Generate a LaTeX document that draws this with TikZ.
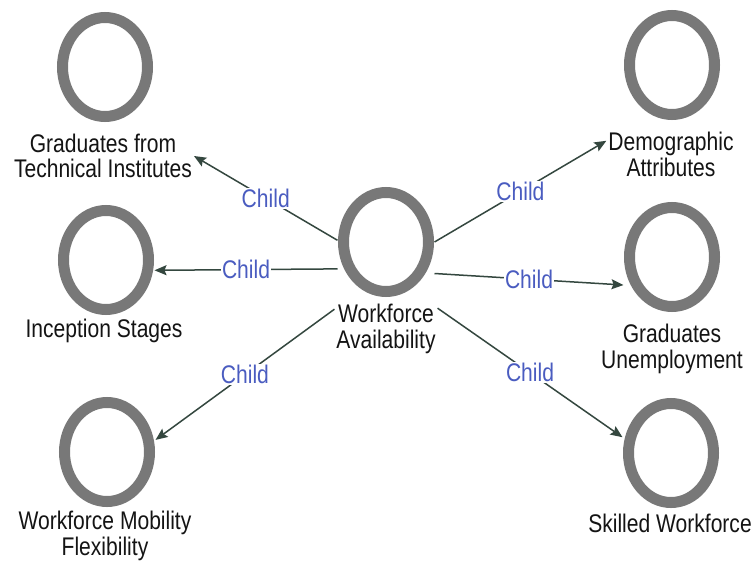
\documentclass[tikz,border=0pt]{standalone}
\usepackage{fontspec}
\setmainfont{Liberation Sans}[FakeStretch=0.826]
\usetikzlibrary{arrows.meta}
\definecolor{ringgray}{HTML}{787878}
\definecolor{edgecol}{HTML}{34473F}
\definecolor{childblue}{HTML}{4A5CC0}
\definecolor{labeltext}{HTML}{141414}
\tikzset{
 concept/.style={rectangle, minimum width=97pt, minimum height=111pt, inner sep=0pt, outer sep=0pt,
   path picture={\draw[ringgray, line width=11pt] (path picture bounding box.center) ellipse [x radius=42.5pt, y radius=49.5pt];}},
 conceptlabel/.style={align=center, inner sep=2pt, outer sep=0pt, text=labeltext, font=\fontsize{25.5}{25.5}\selectfont},
 link/.style={edgecol, line width=1.5pt, -{Stealth[length=12pt,width=10pt,inset=2pt]}},
 childlabel/.style={fill=white, inner sep=1pt, text=childblue, font=\fontsize{25.5}{25.5}\selectfont, midway}
}
\begin{document}
\begin{tikzpicture}[x=1pt,y=-1pt]
\useasboundingbox[fill=white] (0,0) rectangle (755,562);
% concepts
\node[concept] (C) at (386,242) {};
\node[conceptlabel] (CL) at (386,329) {Workforce\\Availability};
\node[concept] (G) at (105,67) {};
\node[conceptlabel] (GL) at (103,156) {Graduates from\\Technical Institutes};
\node[concept] (I) at (106,260) {};
\node[conceptlabel] (IL) at (104,331.4) {Inception Stages};
\node[concept] (M) at (107,452) {};
\node[conceptlabel] (ML) at (105,536) {Workforce Mobility\\Flexibility};
\node[concept] (D) at (672,65) {};
\node[conceptlabel] (DL) at (671,154.5) {Demographic\\Attributes};
\node[concept] (U) at (672,257) {};
\node[conceptlabel] (UL) at (672,349) {Graduates\\Unemployment};
\node[concept] (S) at (671,453) {};
\node[conceptlabel] (SL) at (670,523.7) {Skilled Workforce};
% links
\draw[link] (C.178) -- node[childlabel] {Child} (GL.east);
\draw[link] (C.209) -- node[childlabel] {Child} (I.-12);
\draw[link] (CL.159) -- node[childlabel] {Child} (M.14);
\draw[link] (C.east) -- node[childlabel] {Child} (DL.168);
\draw[link] (C.-33) -- node[childlabel] {Child} (U.210);
\draw[link] (CL.22) -- node[childlabel] {Child} (S.162);
\end{tikzpicture}
\end{document}
